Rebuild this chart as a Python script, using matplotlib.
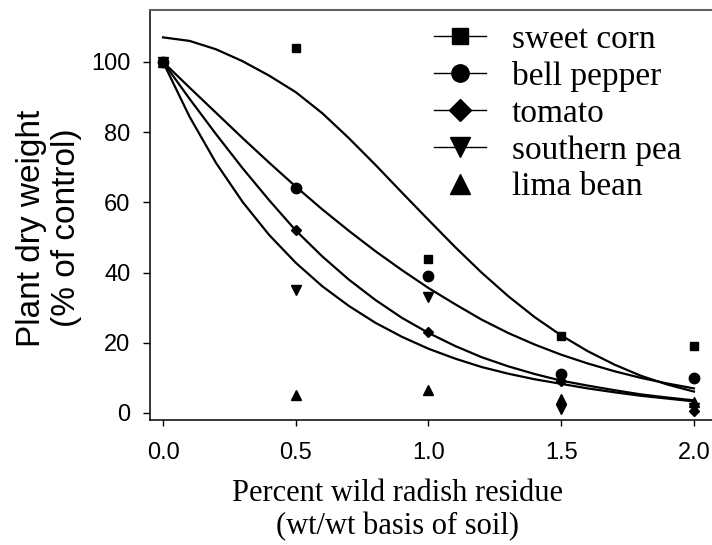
import matplotlib.pyplot as plt
from matplotlib.lines import Line2D

# observed points
residue = [0.0, 0.5, 1.0, 1.5, 2.0]
sweet_corn = [100, 104, 44, 22, 19]
bell_pepper = [100, 64, 39, 11, 10]
tomato = [100, 52, 23, 9, 0.5]
southern_pea = [100, 35, 33, 1, 1.5]
lima_bean = [100, 5, 6.5, 4, 3]

# fitted curves, every 0.1
fit_x = [0.0, 0.1, 0.2, 0.3, 0.4, 0.5, 0.6, 0.7, 0.8, 0.9, 1.0,
         1.1, 1.2, 1.3, 1.4, 1.5, 1.6, 1.7, 1.8, 1.9, 2.0]
fit_sweet_corn = [107, 106.0, 103.6, 100.2, 96.1, 91.4, 85.4, 78.3, 70.7, 62.8, 55.0,
                  47.3, 40.0, 33.3, 27.3, 22.1, 17.6, 13.8, 10.6, 8.1, 6.1]
fit_bell_pepper = [100, 92.7, 85.5, 78.3, 71.3, 64.5, 58.0, 51.9, 46.1, 40.7, 35.6,
                   31.0, 26.6, 22.8, 19.5, 16.6, 14.1, 11.9, 10.0, 8.4, 7.0]
fit_tomato = [100, 89.5, 79.4, 69.7, 60.6, 52.0, 44.6, 38.0, 32.2, 27.1, 22.8,
              19.1, 15.9, 13.3, 11.1, 9.2, 7.8, 6.5, 5.3, 4.4, 3.6]
fit_southern_pea = [100, 84.4, 71.2, 60.1, 50.7, 42.8, 36.1, 30.5, 25.7, 21.7, 18.3,
                    15.5, 13.1, 11.2, 9.6, 8.3, 7.0, 5.9, 4.9, 4.1, 3.3]

names = ['sweet corn', 'bell pepper', 'tomato', 'southern pea', 'lima bean']

sans = 'Liberation Sans'
serif = 'Liberation Serif'

fig = plt.figure(figsize=(7.12, 5.45), dpi=100)
ax = fig.add_axes([150/712, 125/545, 562/712, 410/545])

for fy in [fit_sweet_corn, fit_bell_pepper, fit_tomato, fit_southern_pea]:
    ax.plot(fit_x, fy, color='black', lw=1.6, solid_joinstyle='round', zorder=2)

ax.plot(residue, sweet_corn, 's', color='black', ms=5.8, ls='none', zorder=3)
ax.plot(residue, tomato, 'D', color='black', ms=5, ls='none', zorder=3)
ax.plot(residue, southern_pea, 'v', color='black', ms=7, ls='none', zorder=3)
ax.plot(residue, lima_bean, '^', color='black', ms=7, ls='none', zorder=3)
ax.plot(residue, bell_pepper, 'o', color='black', ms=7.5, ls='none', zorder=4)

ax.set_xlim(-0.049, 2.068)
ax.set_ylim(-2.0, 114.8)
ax.set_xticks([0.0, 0.5, 1.0, 1.5, 2.0])
ax.set_xticklabels(['0.0', '0.5', '1.0', '1.5', '2.0'])
ax.set_yticks([0, 20, 40, 60, 80, 100])

ax.tick_params(axis='x', direction='out', length=4, width=1, pad=12, labelsize=17)
ax.tick_params(axis='y', direction='out', length=5, width=1, pad=9, labelsize=17)
for lab in ax.get_xticklabels() + ax.get_yticklabels():
    lab.set_fontfamily(sans)

ax.spines['right'].set_visible(False)
ax.spines['top'].set_color('#606060')
ax.spines['top'].set_linewidth(1.5)
ax.spines['left'].set_linewidth(1.1)
ax.spines['bottom'].set_linewidth(1.1)

fig.text(398/712, 1 - 510/545, 'Percent wild radish residue\n(wt/wt basis of soil)',
         ha='center', va='center', fontsize=22, family=serif, linespacing=1.2)
fig.text(49/712, 1 - 228/545, 'Plant dry weight\n(% of control)', rotation=90,
         ha='center', va='center', fontsize=24, family=sans, linespacing=1.15)

handles = [
    Line2D([], [], color='black', lw=1, marker='s', ms=12),
    Line2D([], [], color='black', lw=1, marker='o', ms=12.5),
    Line2D([], [], color='black', lw=1, marker='D', ms=11),
    Line2D([], [], color='black', lw=1, marker='v', ms=15),
    Line2D([], [], color='none', marker='^', ms=15, mfc='black', mec='black'),
]
ax.legend(handles, names, loc='upper left', bbox_to_anchor=(434/712, 1 - 24/545),
          bbox_transform=fig.transFigure, frameon=False, prop={'family': serif, 'size': 24},
          handlelength=1.55, handletextpad=0.78, labelspacing=0.19, borderpad=0,
          borderaxespad=0)

fig.savefig('out.png', dpi=100)
